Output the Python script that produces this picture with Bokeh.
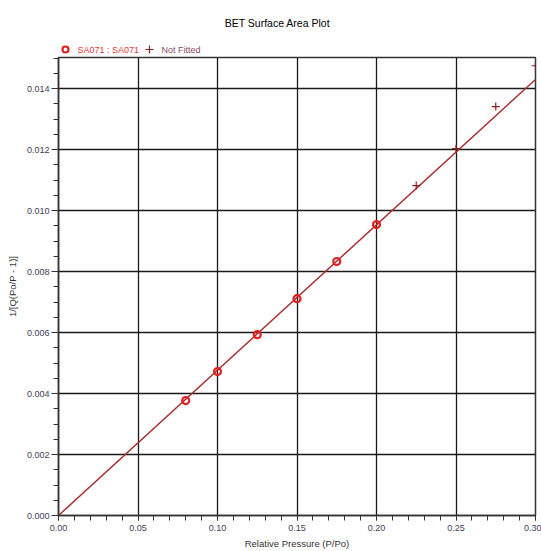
from bokeh.plotting import figure
from bokeh.layouts import column
from bokeh.models import Range1d, FixedTicker, PrintfTickFormatter
from bokeh.core.properties import value
from bokeh.embed import file_html
from bokeh.resources import INLINE

# Fitted BET points
fit_x = [0.080, 0.100, 0.125, 0.150, 0.175, 0.200]
fit_y = [0.00377, 0.00472, 0.00593, 0.00711, 0.00833, 0.00954]
# Points not fitted
nf_x = [0.225, 0.250, 0.275, 0.300]
nf_y = [0.01082, 0.01203, 0.01341, 0.01475]
# Fitted line endpoints
line_x = [0.0, 0.30]
line_y = [0.0, 0.0143]

x_ticks = [0.0, 0.05, 0.10, 0.15, 0.20, 0.25, 0.30]
x_minor = [i / 100 for i in range(0, 31)]
y_ticks = [0.0, 0.002, 0.004, 0.006, 0.008, 0.010, 0.012, 0.014]
y_minor = [i * 0.0005 for i in range(0, 31)]

title_text = "BET Surface Area Plot"
legend_labels = ["SA071 : SA071", "Not Fitted"]

FONT = "Liberation Sans"
W = 541
H_HEAD = 55
H_MAIN = 496

# ---------- header: title + legend (coordinates in page pixels) ----------
head = figure(width=W, height=H_HEAD, output_backend="svg", toolbar_location=None,
              x_range=Range1d(58, 535), y_range=Range1d(H_HEAD, 0),
              x_axis_type=None, y_axis_type=None,
              min_border_left=58, min_border_right=6,
              min_border_top=0, min_border_bottom=0)
head.title = None
head.grid.visible = False
head.outline_line_color = None

head.text(x=[277], y=[22], text=[title_text], text_font=value(FONT),
          text_font_size="10.5px", text_color="#000000",
          text_align="center", text_baseline="middle")
head.scatter(x=[65], y=[49], marker="circle", size=6, fill_color=None,
             line_color="#e02020", line_width=2.2)
head.text(x=[77], y=[49], text=[legend_labels[0]], text_font=value(FONT),
          text_font_size="9px", text_color="#e03838",
          text_align="left", text_baseline="middle")
head.scatter(x=[149], y=[49], marker="cross", size=8, line_color="#8b2020", line_width=1.2)
head.text(x=[161], y=[49], text=[legend_labels[1]], text_font=value(FONT),
          text_font_size="9px", text_color="#8a4a6a",
          text_align="left", text_baseline="middle")

# ---------- main plot ----------
p = figure(width=W, height=H_MAIN, output_backend="svg", toolbar_location=None,
           x_range=Range1d(0, 0.30), y_range=Range1d(0, 0.01502),
           min_border_left=58, min_border_right=6, min_border_top=2, min_border_bottom=36)
p.title = None

p.xaxis.ticker = FixedTicker(ticks=x_ticks, minor_ticks=x_minor)
p.yaxis.ticker = FixedTicker(ticks=y_ticks, minor_ticks=y_minor)
p.xaxis.formatter = PrintfTickFormatter(format="%.2f")
p.yaxis.formatter = PrintfTickFormatter(format="%.3f")

for ax in (p.xaxis[0], p.yaxis[0]):
    ax.axis_line_color = "#333333"
    ax.axis_line_width = 1.5
    ax.major_tick_line_color = "#333333"
    ax.minor_tick_line_color = "#333333"
    ax.major_tick_in = 0
    ax.minor_tick_in = 0
    ax.minor_tick_out = 5
    ax.major_label_text_font = FONT
    ax.major_label_text_font_size = "9px"
    ax.major_label_text_color = "#404058"
    ax.axis_label_text_font = FONT
    ax.axis_label_text_font_size = "9.5px"
    ax.axis_label_text_font_style = "normal"
    ax.axis_label_text_color = "#333333"

p.xaxis.major_tick_out = 5
p.yaxis.major_tick_out = 7
p.xaxis.axis_label = "Relative Pressure (P/Po)"
p.yaxis.axis_label = "1/[Q(Po/P - 1)]"
p.xaxis.axis_label_standoff = 4
p.yaxis.axis_label_standoff = 6
p.yaxis.major_label_standoff = 2
p.xaxis.major_label_standoff = 4

p.xgrid.ticker = FixedTicker(ticks=x_ticks)
p.ygrid.ticker = FixedTicker(ticks=y_ticks)
p.grid.grid_line_color = "#1a1a1a"
p.grid.grid_line_width = 1.3
p.grid.grid_line_alpha = 1.0

p.outline_line_color = "#333333"
p.outline_line_width = 1.5

p.line(line_x, line_y, line_color="#a83232", line_width=1.5)
p.scatter(fit_x, fit_y, marker="circle", size=7, fill_color=None,
          line_color="#e02020", line_width=2.2)
p.scatter(nf_x, nf_y, marker="cross", size=8, line_color="#8b2020", line_width=1.2)

layout = column(head, p, spacing=0)
open("out.html", "w").write(file_html(layout, INLINE))
